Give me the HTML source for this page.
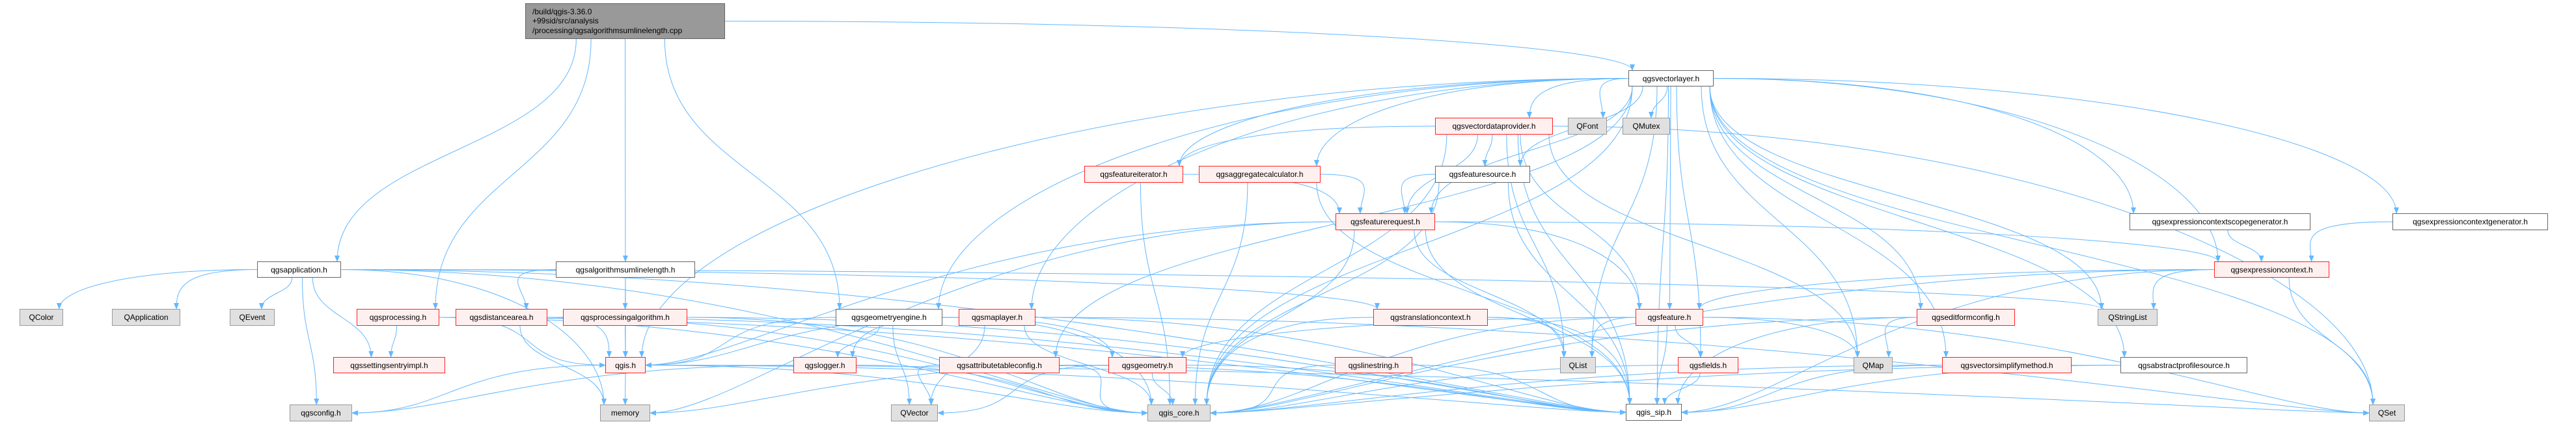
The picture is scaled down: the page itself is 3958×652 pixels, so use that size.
<!DOCTYPE html>
<html><head><meta charset="utf-8">
<style>
html,body{margin:0;padding:0;background:#fff;}
#c{position:relative;width:3958px;height:652px;overflow:hidden;font-family:"Liberation Sans","DejaVu Sans",sans-serif;}
svg{position:absolute;left:0;top:0;}
.n{position:absolute;box-sizing:border-box;display:flex;align-items:center;justify-content:center;font-size:12px;color:#000;white-space:nowrap;border:1px solid #666;background:#fff;}
.r{background:#fff0f0;border:1.5px solid #ff2020;}
.g{background:#e0e0e0;border:1px solid #999;}
.root{background:#999;border:1px solid #666;justify-content:flex-start;padding-left:10px;line-height:14.5px;}
</style></head><body>
<div id="c">
<svg id="s" width="3958" height="652" viewBox="0 0 3958 652">
<defs><marker id="a" markerWidth="10" markerHeight="8" refX="9" refY="4" orient="auto" markerUnits="userSpaceOnUse"><path d="M0,0 L10,4 L0,8 z" fill="#63b8ff"/></marker></defs>
<g id="e" fill="none" stroke="#63b8ff" stroke-width="1"></g>
</svg>
<div class="n root" style="left:807px;top:5px;width:307px;height:55px;">/build/qgis-3.36.0<br>+99sid/src/analysis<br>/processing/qgsalgorithmsumlinelength.cpp</div>
<div id="nodes"></div>
</div>
<script>
var N={
app:[395,402,129,25,'','qgsapplication.h'],
alg:[854,402,214,25,'','qgsalgorithmsumlinelength.h'],
QColor:[30,475,67,26,'g','QColor'],
QApplication:[172,475,105,26,'g','QApplication'],
QEvent:[353,475,69,26,'g','QEvent'],
proc:[548,475,127,26,'r','qgsprocessing.h'],
dist:[700,475,141,26,'r','qgsdistancearea.h'],
palg:[865,475,191,26,'r','qgsprocessingalgorithm.h'],
sett:[512,549,172,25,'r','qgssettingsentryimpl.h'],
qgis:[930,549,62,25,'r','qgis.h'],
cfg:[445,622,96,26,'g','qgsconfig.h'],
mem:[922,622,77,26,'g','memory'],
geng:[1284,475,164,26,'','qgsgeometryengine.h'],
mapl:[1473,475,118,26,'r','qgsmaplayer.h'],
log:[1219,549,97,25,'r','qgslogger.h'],
atc:[1443,549,185,25,'r','qgsattributetableconfig.h'],
geom:[1703,549,120,25,'r','qgsgeometry.h'],
QVector:[1369,622,72,26,'g','QVector'],
core:[1763,622,97,26,'g','qgis_core.h'],
fit:[1666,255,152,26,'r','qgsfeatureiterator.h'],
agg:[1842,255,187,26,'r','qgsaggregatecalculator.h'],
vl:[2502,108,131,25,'','qgsvectorlayer.h'],
vdp:[2205,181,181,26,'r','qgsvectordataprovider.h'],
QFont:[2409,181,60,26,'g','QFont'],
QMutex:[2493,181,73,26,'g','QMutex'],
fs:[2205,255,146,26,'','qgsfeaturesource.h'],
freq:[2052,328,153,26,'r','qgsfeaturerequest.h'],
tc:[2110,475,176,26,'r','qgstranslationcontext.h'],
feat:[2513,475,104,26,'r','qgsfeature.h'],
ls:[2051,549,119,25,'r','qgslinestring.h'],
QList:[2397,549,55,25,'g','QList'],
fields:[2578,549,93,25,'r','qgsfields.h'],
QMap:[2848,549,60,25,'g','QMap'],
sip:[2498,621,86,26,'','qgis_sip.h'],
ecsg:[3272,328,278,26,'','qgsexpressioncontextscopegenerator.h'],
ecg:[3676,328,239,26,'','qgsexpressioncontextgenerator.h'],
ec:[3402,402,177,25,'r','qgsexpressioncontext.h'],
QStringList:[3223,475,92,26,'g','QStringList'],
efc:[2945,475,151,26,'r','qgseditformconfig.h'],
vsm:[2984,549,199,25,'r','qgsvectorsimplifymethod.h'],
aps:[3258,549,195,25,'','qgsabstractprofilesource.h'],
QSet:[3640,622,55,26,'g','QSet'],
root:[807,5,307,55,'','']
};
var h='';
for(var k in N){if(k=='root')continue;var n=N[k];
h+='<div class="n '+n[4]+'" style="left:'+n[0]+'px;top:'+n[1]+'px;width:'+n[2]+'px;height:'+n[3]+'px;">'+n[5]+'</div>';}
document.getElementById('nodes').innerHTML=h;
var E={
root:['app','proc','alg','geng','vl'],
app:['QColor','QApplication','QEvent','sett','cfg','mem','core','sip','QStringList','tc'],
alg:['dist','palg','qgis'],
proc:['sett','qgis','core','sip'],
dist:['qgis','mem','core','sip'],
palg:['qgis','core','sip'],
qgis:['mem','cfg','core','sip','QSet'],
geng:['log','QVector','core','geom','qgis'],
mapl:['log','qgis','core','sip','QSet','QVector'],
log:['core','cfg'],
atc:['QVector','core','sip'],
geom:['core','sip','QVector','mem'],
fit:['freq','core'],
agg:['freq','core','sip'],
vl:['qgis','mapl','atc','core','fit','agg','vdp','QFont','QMutex','fs','freq','QList','feat','fields','QMap','sip','efc','vsm','aps','QStringList','ecsg','ecg','ec','QSet','geng'],
vdp:['fit','fs','freq','QList','feat','sip','QMap','QSet','core'],
fs:['freq','core','sip'],
freq:['qgis','feat','QList','sip','core','ec','mem'],
tc:['QList','core','sip'],
feat:['QList','QMap','fields','sip','core','geom','QSet'],
fields:['sip','core'],
efc:['QMap','sip','core'],
vsm:['core','sip'],
aps:['core','sip'],
ecsg:['ec'],ecg:['ec'],
ec:['QStringList','QSet','sip','core','feat'],
ls:['core','sip']
};
var g=document.getElementById('e'),p='';
function cl(v,a,b){return Math.max(a+6,Math.min(b-6,v));}
for(var s in E){var a=N[s];E[s].forEach(function(t){var b=N[t];
var acx=a[0]+a[2]/2,bcx=b[0]+b[2]/2;
var sy=a[1]+a[3],ty=b[1];
var dx=bcx-acx,dy=ty-sy,dir=dx>0?1:-1;
var sx,syy,c1x,c1y;
if(Math.abs(dx)>2.5*dy){
 sx=dir>0?a[0]+a[2]:a[0]; syy=a[1]+a[3]/2;
 c1x=sx+dir*Math.abs(dx)*0.5; c1y=syy;
}else{
 sx=cl(acx+dx*0.15,a[0],a[0]+a[2]); syy=sy; c1x=sx; c1y=sy+dy*0.5;
}
var d;
if(Math.abs(dx)>4*dy&&dy>40&&(t=='core'||t=='sip'||t=='QSet'||t=='mem'||t=='cfg'||t=='QVector'||t=='qgis')){
 var tx=dir>0?b[0]:b[0]+b[2];var tyy=b[1]+b[3]/2;
 d='M'+sx+','+syy+' C'+c1x+','+c1y+' '+(tx-dir*150)+','+tyy+' '+tx+','+tyy;
}else{
 var tx=cl(bcx-dx*0.2,b[0],b[0]+b[2]);
 d='M'+sx+','+syy+' C'+c1x+','+c1y+' '+tx+','+(ty-(ty-syy)*0.5)+' '+tx+','+ty;
}
p+='<path d="'+d+'" marker-end="url(#a)"/>';});}
g.innerHTML=p;
</script>
</body></html>
